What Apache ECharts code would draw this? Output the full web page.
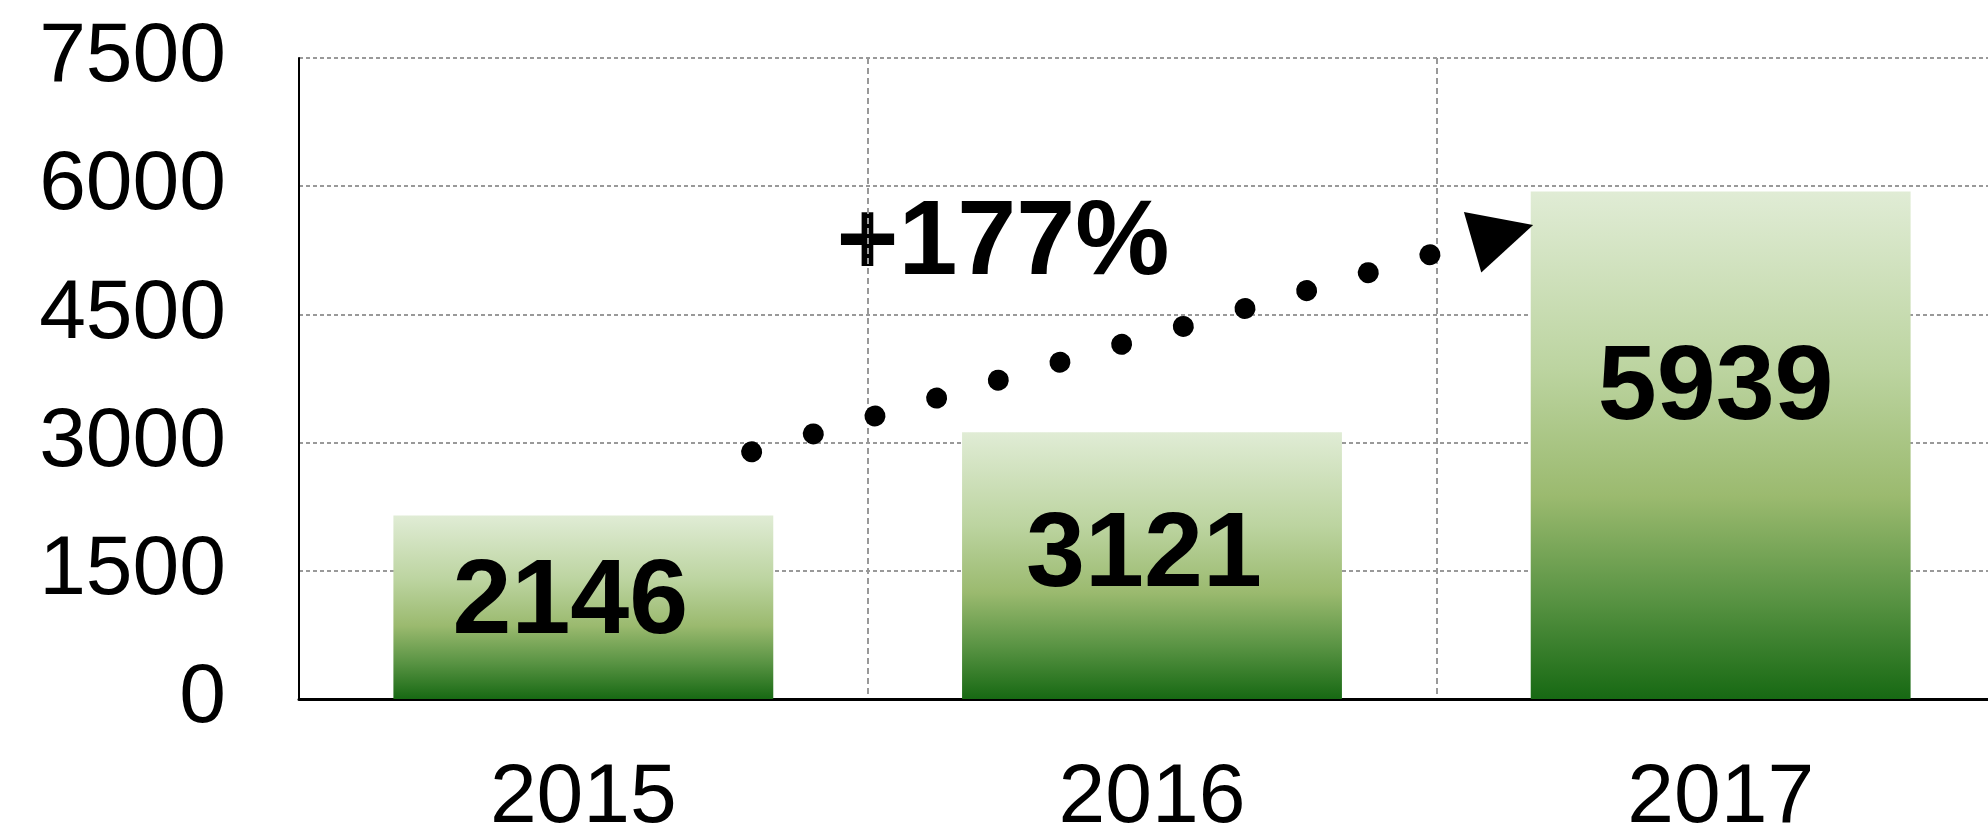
<!DOCTYPE html>
<html>
<head>
<meta charset="utf-8">
<script src="https://cdn.jsdelivr.net/npm/echarts@6/dist/echarts.min.js"></script>
<style>
  html, body { margin: 0; padding: 0; background: #fff; }
  #chart { width: 1988px; height: 836px; }
</style>
</head>
<body>
<div id="chart"></div>
<script>
const years = ["2015", "2016", "2017"];
const values = [2146, 3121, 5939];
const yMax = 7500;
const yStep = 1500;

// growth arrow: x in category units (0..3), y in data units
const trendStart = [0.796, 2892];
const trendEnd = [1.992, 5204];
const arrowHead = [2.117, 5445];

const growth = Math.round((values[2] - values[0]) / values[0] * 100);
const font = '"Liberation Sans", Arial, sans-serif';

// label nudges per bar (the source labels are not centred exactly)
const labelShift = [[-13, -4], [-8, -9], [-5, -55]];

const chart = echarts.init(document.getElementById("chart"));
chart.setOption({
  animation: false,
  grid: {
    left: 299,
    top: 58,
    width: 1706,
    height: 641,
    outerBoundsMode: "none"
  },
  xAxis: [
    {
      type: "category",
      data: years,
      axisLine: { lineStyle: { color: "#000", width: 3 } },
      axisTick: { show: false },
      axisLabel: { color: "#000", fontSize: 84, fontFamily: font, margin: 58 },
      splitLine: {
        show: true,
        lineStyle: { color: "#999", width: 2, type: [6, 4] }
      }
    },
    { type: "value", min: 0, max: 3, show: false }
  ],
  yAxis: {
    type: "value",
    min: 0,
    max: yMax,
    interval: yStep,
    axisLine: { show: true, lineStyle: { color: "#000", width: 2 } },
    axisTick: { show: false },
    axisLabel: {
      color: "#000",
      fontSize: 84,
      fontFamily: font,
      margin: 73,
      formatter: v => String(v)
    },
    splitLine: {
      lineStyle: { color: "#999", width: 2, type: [4, 3] }
    }
  },
  graphic: [
    {
      type: "text",
      x: 1003,
      y: 245,
      style: {
        text: "+" + growth + "%",
        font: "bold 106px " + font,
        fill: "#000",
        align: "center",
        verticalAlign: "middle",
        textAlign: "center",
        textVerticalAlign: "middle"
      }
    }
  ],
  series: [
    {
      type: "bar",
      data: values.map((v, i) => ({ value: v, label: { offset: labelShift[i] } })),
      barWidth: "66.8%",
      itemStyle: {
        color: new echarts.graphic.LinearGradient(0, 0, 0, 1, [
          { offset: 0, color: "#e0ecd5" },
          { offset: 0.35, color: "#bcd4a0" },
          { offset: 0.6, color: "#9bba6f" },
          { offset: 0.8, color: "#5a9444" },
          { offset: 1, color: "#176913" }
        ])
      },
      label: {
        show: true,
        position: "inside",
        color: "#000",
        fontSize: 106,
        fontWeight: "bold",
        fontFamily: font
      }
    },
    {
      // dotted growth line
      type: "line",
      xAxisIndex: 1,
      data: [trendStart, trendEnd],
      symbol: "none",
      silent: true,
      z: 5,
      lineStyle: { color: "#000", width: 21, type: [0.01, 64.2], cap: "round" }
    },
    {
      // arrow head
      type: "scatter",
      xAxisIndex: 1,
      data: [arrowHead],
      symbol: "triangle",
      symbolSize: [63, 63],
      symbolRotate: -74,
      silent: true,
      z: 5,
      itemStyle: { color: "#000", opacity: 1 }
    }
  ]
});
</script>
</body>
</html>
